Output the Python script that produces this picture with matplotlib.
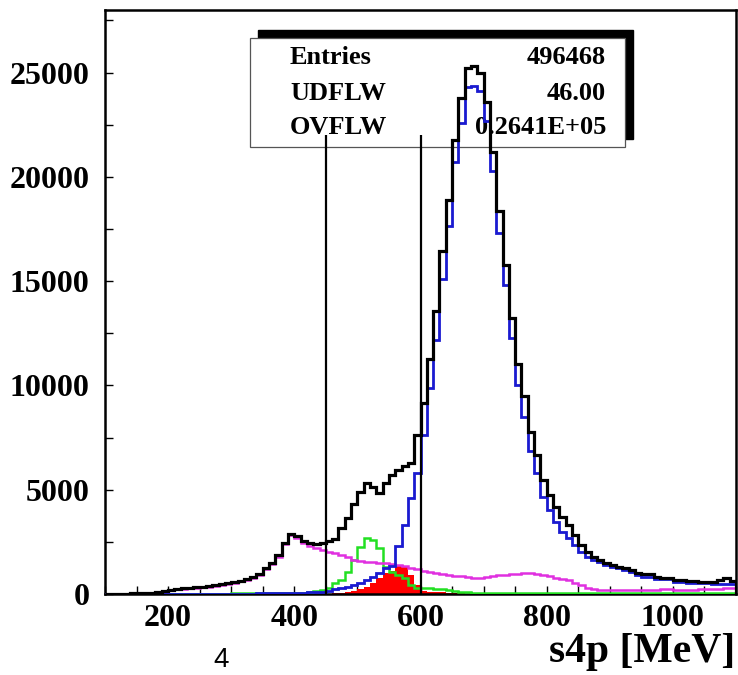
import numpy as np
import matplotlib
matplotlib.use("Agg")
import matplotlib.pyplot as plt
from matplotlib.patches import Rectangle
from matplotlib.ticker import FixedLocator, MultipleLocator

# ---- data (10 MeV bins, 100..1100 MeV) ----
bin_edges = np.arange(100, 1101, 10)

data_total = [
    0, 0, 10, 15, 25, 35, 45, 60, 80, 120,            # 100-190
    180, 240, 280, 310, 330, 350, 370, 410, 460, 520, # 200-290
    570, 640, 730, 830, 980, 1250, 1500, 1850, 2450, 2880,  # 300-390
    2760, 2520, 2430, 2380, 2450, 2520, 2620, 3150, 3620, 4330,  # 400-490
    4900, 5300, 5150, 4850, 5330, 5720, 5960, 6120, 6300, 7600,  # 500-590
    9170, 11280, 13550, 16430, 18900, 21790, 23760, 25200, 25310, 25000,  # 600-690
    23570, 21170, 18340, 15790, 13230, 11040, 9470, 7790, 6670, 5470,  # 700-790
    4750, 4190, 3710, 3310, 2850, 2350, 2000, 1790, 1630, 1470,  # 800-890
    1390, 1310, 1230, 1150, 990, 940, 940, 830, 750, 750,  # 900-990
    670, 670, 620, 620, 590, 590, 590, 670, 750, 600,  # 1000-1090
]

signal_mc = [
    0, 0, 0, 0, 0, 0, 0, 0, 0, 0,
    0, 0, 0, 0, 0, 0, 0, 0, 0, 0,
    10, 10, 15, 20, 25, 30, 35, 40, 50, 60,
    60, 70, 80, 90, 100, 150, 220, 290, 350, 420,
    520, 650, 800, 1000, 1250, 1350, 2300, 3300, 4600, 5800,
    7630, 9890, 12190, 15120, 17620, 20690, 22600, 24290, 24350, 24100,
    22660, 20260, 17330, 14830, 12290, 10030, 8500, 6870, 5800, 4670,
    4030, 3470, 2990, 2670, 2350, 2030, 1790, 1630, 1550, 1390,
    1310, 1230, 1150, 1070, 910, 830, 830, 720, 720, 720,
    590, 590, 510, 510, 510, 510, 480, 480, 480, 480,
]

bkg_magenta = [
    0, 0, 10, 15, 25, 35, 45, 60, 80, 110,
    170, 220, 260, 290, 310, 330, 350, 390, 440, 490,
    530, 600, 680, 780, 930, 1190, 1440, 1790, 2390, 2810,
    2700, 2450, 2300, 2200, 2100, 2030, 1950, 1870, 1760, 1650,
    1580, 1550, 1520, 1490, 1480, 1450, 1400, 1330, 1250, 1180,
    1120, 1060, 1010, 960, 920, 880, 850, 820, 780, 760,
    800, 850, 900, 930, 960, 980, 1000, 990, 960, 910,
    850, 770, 700, 650, 550, 420, 300, 220, 190, 180,
    180, 180, 180, 190, 190, 200, 200, 200, 220, 260,
    200, 170, 190, 200, 220, 230, 240, 250, 280, 290,
]

bkg_green = [
    0, 0, 0, 0, 0, 0, 0, 0, 0, 0,
    20, 20, 20, 20, 20, 20, 20, 20, 20, 20,
    40, 40, 40, 40, 40, 40, 40, 40, 40, 40,
    50, 60, 80, 120, 180, 290, 530, 670, 1060, 1630,
    2250, 2680, 2580, 2200, 1300, 1070, 900, 770, 450, 300,
    290, 280, 260, 240, 200, 150, 110, 80, 60, 40,
    30, 30, 30, 30, 30, 30, 30, 30, 30, 30,
    30, 30, 30, 30, 30, 30, 30, 30, 30, 30,
    30, 30, 30, 30, 30, 30, 30, 30, 30, 30,
    30, 30, 30, 30, 30, 30, 30, 30, 30, 30,
]

bkg_red = [
    0, 0, 0, 0, 0, 0, 0, 0, 0, 0,
    0, 0, 0, 0, 0, 0, 0, 0, 0, 0,
    0, 0, 0, 0, 0, 0, 0, 0, 0, 0,
    0, 0, 0, 0, 0, 0, 30, 60, 100, 150,
    220, 330, 520, 750, 1000, 1100, 1390, 1300, 900, 450,
    120, 100, 90, 80, 60, 40, 30, 20, 10, 5,
    0, 0, 0, 0, 0, 0, 0, 0, 0, 0,
    0, 0, 0, 0, 0, 0, 0, 0, 0, 0,
    0, 0, 0, 0, 0, 0, 0, 0, 0, 0,
    0, 0, 0, 0, 0, 0, 0, 0, 0, 0,
]

cut_positions = [450, 600]
cut_top = 22000

x_major = [200, 400, 600, 800, 1000]
x_major_labels = ["200", "400", "600", "800", "1000"]
y_major = [0, 5000, 10000, 15000, 20000, 25000]
y_major_labels = ["0", "5000", "10000", "15000", "20000", "25000"]

stats_names = ["Entries", "UDFLW", "OVFLW"]
stats_values = ["496468", "46.00", "0.2641E+05"]

# ---- figure ----
W, H = 738, 675
fig = plt.figure(figsize=(W / 100, H / 100), dpi=100)
ax_l, ax_r, ax_t, ax_b = 105, 736, 10, 594
ax = fig.add_axes([ax_l / W, 1 - ax_b / H, (ax_r - ax_l) / W, (ax_b - ax_t) / H])

serif = ["Liberation Serif", "DejaVu Serif"]

# stats box (behind data)
bx0, bx1 = (250 - ax_l) / (ax_r - ax_l), (625 - ax_l) / (ax_r - ax_l)
by0, by1 = (ax_b - 147) / (ax_b - ax_t), (ax_b - 38) / (ax_b - ax_t)
dx, dy = 8 / (ax_r - ax_l), 8 / (ax_b - ax_t)
ax.add_patch(Rectangle((bx0 + dx, by0 + dy), bx1 - bx0, by1 - by0, transform=ax.transAxes,
                       facecolor="black", edgecolor="black", zorder=1))
ax.add_patch(Rectangle((bx0, by0), bx1 - bx0, by1 - by0, transform=ax.transAxes,
                       facecolor="white", edgecolor="#555555", linewidth=0.9, zorder=1.1))
row_y = [(ax_b - 58) / (ax_b - ax_t), (ax_b - 93) / (ax_b - ax_t), (ax_b - 127) / (ax_b - ax_t)]
tx_l = (290 - ax_l) / (ax_r - ax_l)
tx_r = (606 - ax_l) / (ax_r - ax_l)
for name, val, yy in zip(stats_names, stats_values, row_y):
    ax.text(tx_l, yy, name, transform=ax.transAxes, ha="left", va="center",
            fontsize=19, fontweight="bold", family=serif, zorder=1.2)
    ax.text(tx_r, yy, val, transform=ax.transAxes, ha="right", va="center",
            fontsize=19, fontweight="bold", family=serif, zorder=1.2)

# histograms
ax.stairs(bkg_red, bin_edges, fill=True, color="#ff0000", zorder=2)
ax.stairs(bkg_green, bin_edges, color="#22e022", linewidth=1.8, zorder=3)
ax.stairs(bkg_magenta, bin_edges, color="#e030e0", linewidth=1.8, zorder=3)
ax.stairs(signal_mc, bin_edges, color="#1a1ad0", linewidth=2.0, zorder=4)
ax.stairs(data_total, bin_edges, color="black", linewidth=2.3, zorder=5)

# cut lines
ax.vlines(cut_positions, 0, cut_top, color="black", linewidth=1.6, zorder=6)

ax.set_xlim(100, 1100)
ax.set_ylim(0, 28000)

ax.xaxis.set_major_locator(FixedLocator(x_major))
ax.xaxis.set_minor_locator(MultipleLocator(50))
ax.yaxis.set_major_locator(FixedLocator(y_major))
ax.yaxis.set_minor_locator(MultipleLocator(2500))
ax.set_xticklabels(x_major_labels)
ax.set_yticklabels(y_major_labels)
ax.tick_params(axis="both", which="both", direction="in", length=6, width=1.0,
               top=False, right=False)
ax.tick_params(axis="x", which="major", pad=7)
ax.tick_params(axis="y", which="major", pad=11)
for lab in ax.get_xticklabels() + ax.get_yticklabels():
    lab.set_fontfamily(serif)
    lab.set_fontweight("bold")
    lab.set_fontsize(23)

for sp in ax.spines.values():
    sp.set_linewidth(1.8)

fig.text(735 / W, 1 - 652 / H, "s4p [MeV]", ha="right", va="center",
         fontsize=30, fontweight="bold", family=serif)
fig.text(221 / W, 1 - 660 / H, "4", ha="center", va="center",
         fontsize=20, family=["Liberation Sans", "DejaVu Sans"])

fig.savefig("out.png", dpi=100)
